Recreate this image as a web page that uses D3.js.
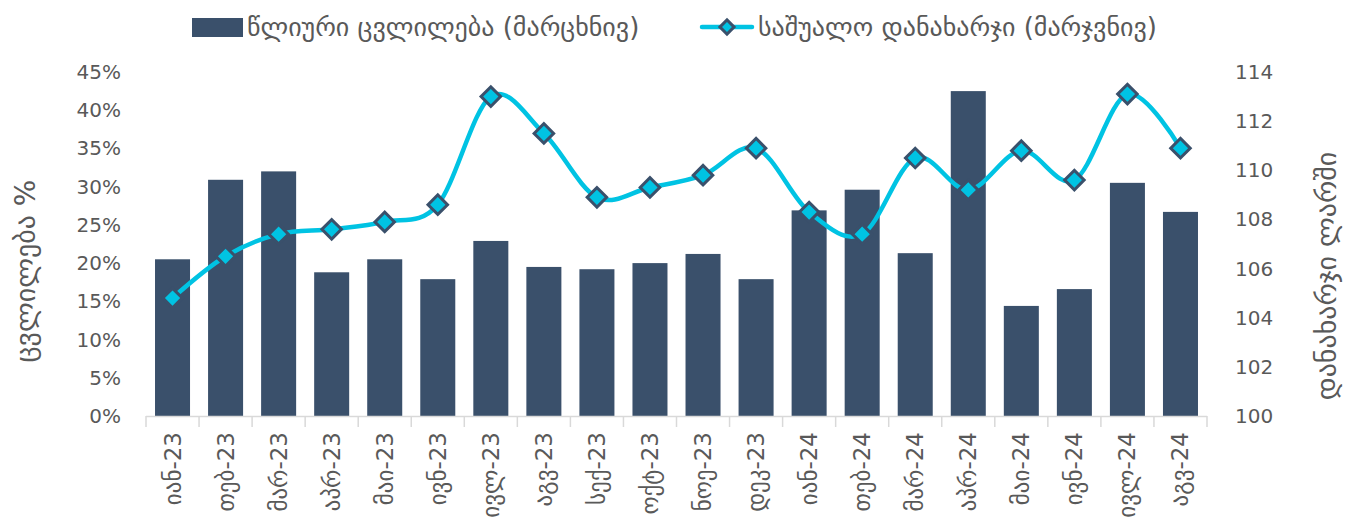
<!DOCTYPE html>
<html>
<head>
<meta charset="utf-8">
<script src="https://cdn.jsdelivr.net/npm/d3@7"></script>
<style>
  body { margin: 0; background: #fff; }
  svg text { font-family: "DejaVu Sans", sans-serif; fill: #595959; }
</style>
</head>
<body>
<svg id="chart" width="1351" height="527"></svg>
<script>
var months = ["იან-23", "თებ-23", "მარ-23", "აპრ-23", "მაი-23", "ივნ-23", "ივლ-23", "აგვ-23", "სექ-23", "ოქტ-23",
              "ნოე-23", "დეკ-23", "იან-24", "თებ-24", "მარ-24", "აპრ-24", "მაი-24", "ივნ-24", "ივლ-24", "აგვ-24"];
// yearly change, %
var change = [20.5, 30.9, 32.0, 18.8, 20.5, 17.9, 22.9, 19.5, 19.2, 20.0,
              21.2, 17.9, 26.9, 29.6, 21.3, 42.5, 14.4, 16.6, 30.5, 26.7];
// average spending, GEL
var spending = [104.8, 106.5, 107.4, 107.6, 107.9, 108.6, 113.0, 111.5, 108.9, 109.3,
                109.8, 110.9, 108.3, 107.4, 110.5, 109.2, 110.8, 109.6, 113.1, 110.9];
var leftTicks = [0, 5, 10, 15, 20, 25, 30, 35, 40, 45];
var rightTicks = [100, 102, 104, 106, 108, 110, 112, 114];

var barColor = "#3a506b", lineColor = "#00c3e3";

var svg = d3.select("#chart"),
    plotLeft = 146, plotRight = 1207, plotTop = 72, plotBottom = 416;

var x = d3.scaleBand().domain(months).range([plotLeft, plotRight]).paddingInner(0.34).paddingOuter(0.17);
var yL = d3.scaleLinear().domain([0, 45]).range([plotBottom, plotTop]);
var yR = d3.scaleLinear().domain([100, 114]).range([plotBottom, plotTop]);

// bars
svg.append("g")
    .selectAll("rect")
    .data(months)
    .enter().append("rect")
    .attr("x", function(d) { return x(d); })
    .attr("width", x.bandwidth())
    .attr("y", function(d, i) { return yL(change[i]); })
    .attr("height", function(d, i) { return plotBottom - yL(change[i]); })
    .attr("fill", barColor);

// x axis baseline + tick marks between categories
var step = x.step();
var x0 = x(months[0]) - x.paddingOuter() * step;
var axisG = svg.append("g");
axisG.append("line")
    .attr("x1", x0).attr("x2", x0 + step * months.length)
    .attr("y1", plotBottom + 0.5).attr("y2", plotBottom + 0.5)
    .attr("stroke", "#d9d9d9").attr("stroke-width", 1.5);
axisG.selectAll("line.tk")
    .data(d3.range(months.length + 1))
    .enter().append("line")
    .attr("class", "tk")
    .attr("x1", function(i) { return x0 + i * step; })
    .attr("x2", function(i) { return x0 + i * step; })
    .attr("y1", plotBottom).attr("y2", plotBottom + 11)
    .attr("stroke", "#d9d9d9").attr("stroke-width", 1.5);

axisG.selectAll("text")
    .data(months)
    .enter().append("text")
    .attr("transform", function(d) {
        return "translate(" + (x(d) + x.bandwidth() / 2 + 8) + "," + (plotBottom + 16) + ") rotate(-90)";
    })
    .attr("text-anchor", "end")
    .style("font-size", "23px")
    .text(function(d) { return d; });

// left axis
svg.append("g").selectAll("text")
    .data(leftTicks)
    .enter().append("text")
    .attr("x", 121)
    .attr("y", function(d) { return yL(d) + 7; })
    .attr("text-anchor", "end")
    .style("font-size", "20px")
    .text(function(d) { return d + "%"; });

// right axis
svg.append("g").selectAll("text")
    .data(rightTicks)
    .enter().append("text")
    .attr("x", 1235)
    .attr("y", function(d) { return yR(d) + 7; })
    .attr("text-anchor", "start")
    .style("font-size", "20px")
    .text(function(d) { return d; });

// axis titles
svg.append("text")
    .attr("transform", "translate(35,271) rotate(-90)")
    .attr("text-anchor", "middle")
    .style("font-size", "28px")
    .text("ცვლილება %");

svg.append("text")
    .attr("transform", "translate(1336,276) rotate(-90)")
    .attr("text-anchor", "middle")
    .style("font-size", "28px")
    .text("დანახარჯი ლარში");

// line
var line = d3.line()
    .x(function(d, i) { return x(months[i]) + x.bandwidth() / 2; })
    .y(function(d) { return yR(d); })
    .curve(d3.curveCardinal);

svg.append("path")
    .datum(spending)
    .attr("d", line)
    .attr("fill", "none")
    .attr("stroke", lineColor)
    .attr("stroke-width", 4.5);

var diamond = d3.symbol().type(d3.symbolSquare).size(190);
svg.append("g")
    .selectAll("path")
    .data(spending)
    .enter().append("path")
    .attr("d", diamond)
    .attr("transform", function(d, i) {
        return "translate(" + (x(months[i]) + x.bandwidth() / 2) + "," + yR(d) + ") rotate(45)";
    })
    .attr("fill", lineColor)
    .attr("stroke", barColor)
    .attr("stroke-width", 3);

// legend
var lg = svg.append("g");
lg.append("rect")
    .attr("x", 192).attr("y", 18).attr("width", 51).attr("height", 19)
    .attr("fill", barColor);
lg.append("text")
    .attr("x", 247).attr("y", 36)
    .style("font-size", "26px")
    .text("წლიური ცვლილება (მარცხნივ)");

lg.append("line")
    .attr("x1", 702).attr("x2", 752).attr("y1", 27).attr("y2", 27)
    .attr("stroke", lineColor).attr("stroke-width", 4.5).attr("stroke-linecap", "round");
lg.append("path")
    .attr("d", d3.symbol().type(d3.symbolSquare).size(100))
    .attr("transform", "translate(727,27) rotate(45)")
    .attr("fill", lineColor)
    .attr("stroke", barColor)
    .attr("stroke-width", 3);
lg.append("text")
    .attr("x", 758).attr("y", 36)
    .style("font-size", "26px")
    .text("საშუალო დანახარჯი (მარჯვნივ)");
</script>
</body>
</html>
